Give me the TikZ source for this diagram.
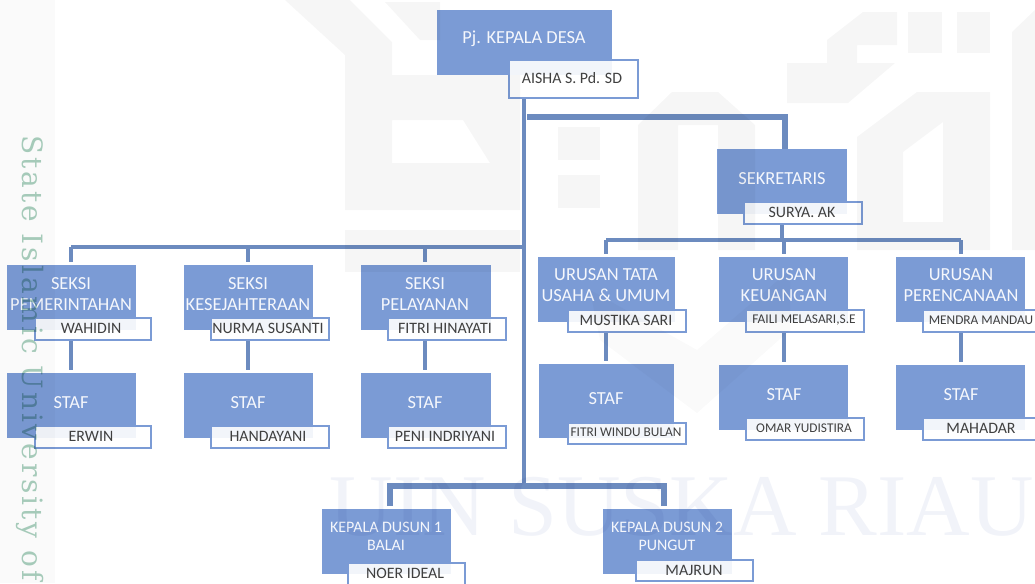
\documentclass[tikz,border=0pt]{standalone}
\usepackage{fontspec}
\setmainfont{Carlito}
\newfontfamily\wmfont{Liberation Serif}
\newfontfamily\wmside[LetterSpace=10.5]{DejaVu Serif}
\definecolor{boxblue}{HTML}{7B9BD5}
\definecolor{linkblue}{HTML}{6C8BBF}
\definecolor{inkgrey}{HTML}{404040}
\definecolor{wmgreen}{HTML}{A9CFBD}
\definecolor{wmgrey}{HTML}{F6F6F6}
\definecolor{wmstrip}{HTML}{FAFAFA}
\definecolor{wmblue}{HTML}{F1F3F9}
\tikzset{
  x=0.75pt,y=-0.75pt,
  rolebox/.style={fill=boxblue,inner sep=0pt,anchor=north west},
  namebox/.style={fill=white,fill opacity=.9,draw=boxblue,line width=1.6pt,inner sep=0pt,anchor=north west},
  roletext/.style={text=white!92!boxblue,font=\fontsize{13.8}{15.6}\selectfont,align=center,inner sep=0pt,yshift=-1pt},
  nametext/.style={text=inkgrey,font=\fontsize{11.9}{13}\selectfont,inner sep=0pt},
  thin link/.style={draw=linkblue,line width=2.4pt},
  thick link/.style={draw=linkblue,line width=3.8pt},
}
\newcommand{\smallname}{\fontsize{10}{12}\selectfont}
\newcommand{\dusunfont}{\fontsize{12}{13}\selectfont}
% id, x1, y1, x2, y2, text, text x, text y
\newcommand{\rolebox}[8]{%
  \node[rolebox,minimum width={(#4-#2)*0.75pt},minimum height={(#5-#3)*0.75pt}] (#1) at (#2,#3) {};
  \node[roletext] (#1-t) at (#7,#8) {#6};}
\newcommand{\namebox}[8]{%
  \node[namebox,minimum width={(#4-#2)*0.75pt-1.6pt},minimum height={(#5-#3)*0.75pt-1.6pt}] (#1) at ({#2+1},{#3+1}) {};
  \node[nametext] (#1-t) at (#7,#8) {#6};}
\begin{document}
\begin{tikzpicture}
\useasboundingbox (0,0) rectangle (1035,583);
% boxes
\rolebox{pj}{437}{10}{612}{75}{Pj. KEPALA DESA}{524}{37}
\namebox{pjn}{507}{58}{638}{98}{AISHA S. Pd. SD}{572}{78}
\rolebox{sek}{717}{149}{847}{214}{SEKRETARIS}{782}{177}
\namebox{sekn}{742}{200}{862}{224}{SURYA. AK}{802}{212}
\rolebox{s1}{7}{265}{136}{330}{SEKSI\\PEMERINTAHAN}{71}{293}
\namebox{s1n}{33}{316}{151}{340}{WAHIDIN}{91}{328}
\rolebox{s2}{184}{265}{313}{330}{SEKSI\\KESEJAHTERAAN}{248}{293}
\namebox{s2n}{209}{316}{329}{340}{NURMA SUSANTI}{268}{328}
\rolebox{s3}{361}{265}{491}{330}{SEKSI\\PELAYANAN}{425}{293}
\namebox{s3n}{386}{316}{506}{340}{FITRI HINAYATI}{445}{328}
\rolebox{t1}{7}{373}{136}{438}{STAF}{71}{401}
\namebox{t1n}{33}{424}{151}{448}{ERWIN}{91}{436}
\rolebox{t2}{184}{373}{313}{438}{STAF}{248}{401}
\namebox{t2n}{209}{424}{329}{448}{HANDAYANI}{268}{436}
\rolebox{t3}{361}{373}{491}{438}{STAF}{425}{401}
\namebox{t3n}{386}{424}{506}{448}{PENI INDRIYANI}{445}{436}
\rolebox{u1}{538}{257}{675}{322}{URUSAN TATA\\USAHA \& UMUM}{606}{284}
\namebox{u1n}{566}{308}{686}{332}{MUSTIKA SARI}{626}{320}
\rolebox{u2}{719}{257}{848}{322}{URUSAN\\KEUANGAN}{784}{284}
\namebox{u2n}{744}{308}{864}{332}{\smallname FAILI MELASARI,S.E}{804}{320}
\rolebox{u3}{896}{257}{1025}{322}{URUSAN\\PERENCANAAN}{961}{284}
\namebox{u3n}{921}{308}{1040}{332}{\smallname MENDRA MANDAU}{981}{320}
\rolebox{v1}{539}{364}{674}{438}{STAF}{606}{397}
\namebox{v1n}{566}{421}{686}{444}{\smallname FITRI WINDU BULAN}{626}{432}
\rolebox{v2}{719}{365}{848}{430}{STAF}{784}{393}
\namebox{v2n}{744}{416}{864}{440}{\smallname OMAR YUDISTIRA}{804}{428}
\rolebox{v3}{896}{365}{1025}{430}{STAF}{961}{393}
\namebox{v3n}{921}{416}{1040}{440}{MAHADAR}{981}{428}
\rolebox{k1}{322}{509}{451}{574}{\dusunfont KEPALA DUSUN 1\\[-2.4pt]\dusunfont BALAI}{386}{535}
\namebox{k1n}{346}{561}{465}{590}{NOER IDEAL}{405}{573}
\rolebox{k2}{603}{509}{732}{574}{\dusunfont KEPALA DUSUN 2\\[-2.4pt]\dusunfont PUNGUT}{667}{535}
\namebox{k2n}{634}{558}{753}{581}{MAJRUN}{694}{570}
% connectors
\coordinate (trunk) at (524,484);
\coordinate (busL) at (524,247);
\coordinate (busR) at (961,240);
\coordinate (secstart) at (527,117);
\coordinate (dusbus) at (524,486);
\coordinate (k1drop) at (390,506);
\coordinate (k2drop) at (664,506);
\draw[thin link,line width=3pt] (trunk |- pjn.south) -- (trunk);
\draw[thick link] (secstart) -| (785,149);
\draw[thin link] (s1-t |- busL) -- (busL);
\foreach \a in {s1,s2,s3} \draw[thin link] (\a-t |- busL) -- ([yshift=2pt]\a-t |- \a.north);
\foreach \a/\b in {s1/t1,s2/t2,s3/t3} \draw[thin link] (\a-t |- \a n.south) -- ([yshift=2pt]\a-t |- \b.north);
\draw[thin link] (sek-t |- sekn.south) -- (sek-t |- busR);
\draw[thin link] (u1-t |- busR) -- (busR);
\foreach \a in {u1,u2,u3} \draw[thin link] (\a-t |- busR) -- ([yshift=2pt]\a-t |- \a.north);
\foreach \a/\b in {u1/v1,u2/v2,u3/v3} \draw[thin link] (\a-t |- \a n.south) -- ([yshift=2pt]\a-t |- \b.north);
\draw[thick link] (k1drop) |- (dusbus) -| (k2drop);
% watermark laid over everything
\begin{scope}[blend mode=multiply]
\fill[wmstrip] (0,0) rectangle (55,583);
\fill[wmgrey,even odd rule] (285,0) -- (350,0) -- (392,42) -- (392,75) -- (520,75) -- (520,210) -- (345,210) -- (345,55) -- cycle
  (392,120) -- (463,120) -- (490,163) -- (392,163) -- cycle;
\fill[wmgrey] (385,2) -- (440,2) -- (440,40) -- (420,40) -- cycle;
\fill[wmgrey] (345,230) rectangle (520,272);
\fill[wmgrey] (558,127) rectangle (600,160);
\fill[wmgrey] (558,175) rectangle (600,208);
\fill[wmgrey] (638,250) -- (638,125) -- (672,92) -- (718,92) -- (755,125) -- (755,250) -- (718,250) -- (718,125) -- (678,125) -- (678,250) -- cycle;
\fill[wmgrey] (787,103) -- (787,63) -- (827,63) -- (827,40) -- (863,12) -- (897,12) -- (897,45) -- (857,45) -- (857,63) -- (895,63) -- (848,103) -- cycle;
\fill[wmgrey] (908,12) rectangle (942,53);
\fill[wmgrey] (957,12) rectangle (990,53);
\fill[wmgrey,even odd rule] (857,250) -- (857,137) -- (917,92) -- (990,92) -- (990,250) -- cycle
  (903,152) -- (943,122) -- (943,222) -- (903,222) -- cycle;
\fill[wmgrey] (1012,32) -- (1035,10) -- (1035,250) -- (1012,250) -- cycle;
\fill[wmstrip] (590,290) -- (697,350) -- (790,270) -- (790,330) -- (697,413) -- (600,340) -- cycle;
\node[text=wmblue,font=\wmfont\fontsize{66}{70}\selectfont,inner sep=0pt] (wm-uin) at (682,507) {UIN SUSKA RIAU};
\node[text=wmgreen,font=\wmside\fontsize{21}{24}\selectfont,rotate=-90,anchor=base west,inner sep=0pt] (wm-state) at (22,135) {State Islamic University of};
\end{scope}
\end{tikzpicture}
\end{document}
